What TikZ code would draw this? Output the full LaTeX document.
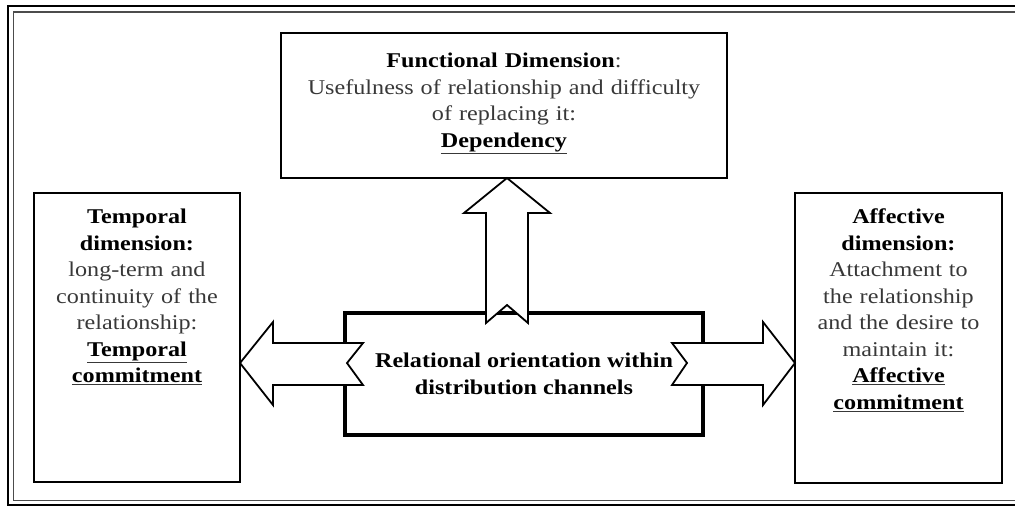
\documentclass[tikz,border=0pt]{standalone}
\usepackage{fontspec}
\usetikzlibrary{calc,positioning}
\newfontfamily\dimfont[FakeStretch=1.15]{Liberation Serif}
\newcommand{\hd}[1]{\textcolor{black}{\textbf{#1}}}
\tikzstyle{dimbox}=[draw, line width=2.4pt, outer sep=0pt, inner sep=0pt]
\tikzstyle{corebox}=[draw, line width=4.5pt, outer sep=0pt, align=center]
\tikzstyle{dimtext}=[anchor=north, align=center, inner sep=0pt, text=black!78, font=\dimfont\fontsize{21}{26.5}\selectfont]
\tikzstyle{blockarrow}=[draw, fill=white, line width=1.8pt, line join=miter]

\begin{document}
\begin{tikzpicture}[x=1pt, y=-1pt]
    \useasboundingbox (0,0) rectangle (1015,507);

    % outer frame
    \draw[line width=2.2pt] (8,6) rectangle (1030,505);
    \draw[line width=1.2pt, black!70] (13.5,12) rectangle (1024,500.5);

    % the three dimensions
    \foreach \pos/\w/\h/\name in {
                            {(504,105.5)/446/145/functional},
                            {(137,337.5)/206/289/temporal},
                            {(898.5,338)/207/290/affective}}
        \node[dimbox, minimum width=\w pt, minimum height=\h pt] (\name) at \pos {};

    \node[dimtext, text width=440pt, below=20pt of functional.north] (functionaltext)
        {\hd{Functional Dimension}:\\ Usefulness of relationship and difficulty\\ of replacing it:\\ \underline{\hd{Dependency}}};
    \node[dimtext, text width=200pt, below=16pt of temporal.north] (temporaltext)
        {\hd{Temporal}\\ \hd{dimension:}\\ long-term and\\ continuity of the\\ relationship:\\ \underline{\hd{Temporal}}\\ \underline{\hd{commitment}}};
    \node[dimtext, text width=200pt, below=16pt of affective.north] (affectivetext)
        {\hd{Affective}\\ \hd{dimension:}\\ Attachment to\\ the relationship\\ and the desire to\\ maintain it:\\ \underline{\hd{Affective}}\\ \underline{\hd{commitment}}};

    % relational orientation
    \node[corebox, minimum width=358pt, minimum height=122pt, font=\dimfont\fontsize{21}{26.5}\selectfont] (orient) at (524,374)
        {\hd{Relational orientation within}\\ \hd{distribution channels}};

    % block arrows
    \coordinate (uptip) at ($(functional.south)+(3,0)$);
    \coordinate (lefttip) at ($(temporal.east)+(0,25.5)$);
    \coordinate (righttip) at ($(affective.west)+(0,25)$);

    \draw[blockarrow] (uptip) -- ++(43,35) -- ++(-22,0)
        -- ($(uptip |- orient.north)+(21,10)$) -- ++(-21,-18) -- ++(-21,18)
        -- ($(uptip)+(-21,35)$) -- ++(-22,0) -- cycle;
    \draw[blockarrow] (lefttip) -- ++(33,-41) -- ++(0,21)
        -- ($(lefttip -| orient.west)+(18,-20)$) -- ++(-16,20) -- ++(16,22)
        -- ($(lefttip)+(33,22)$) -- ++(0,20) -- cycle;
    \draw[blockarrow] (righttip) -- ++(-32,-41) -- ++(0,21)
        -- ($(righttip -| orient.east)+(-31,-20)$) -- ++(15,20) -- ++(-15,22)
        -- ($(righttip)+(-32,22)$) -- ++(0,20) -- cycle;
\end{tikzpicture}
\end{document}
